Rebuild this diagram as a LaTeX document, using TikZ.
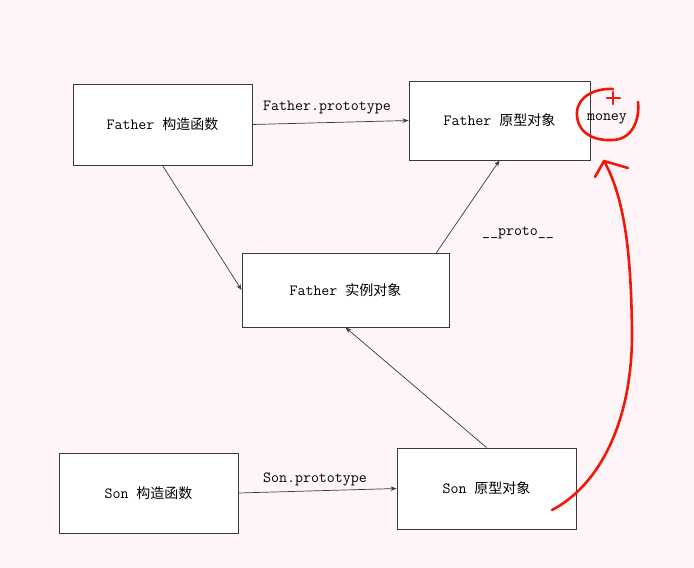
\documentclass[tikz,border=0pt]{standalone}
\usepackage{fontspec}
\newfontfamily\cjk{Noto Sans CJK SC}
\usetikzlibrary{arrows.meta,calc}
\definecolor{bgpink}{HTML}{FFF5F8}
\definecolor{edgegray}{HTML}{3A3A3A}
\definecolor{penred}{HTML}{F01808}
\newcommand{\zh}[1]{{\cjk\fontsize{14}{16}\selectfont #1}}
\begin{document}
\begin{tikzpicture}[x=1pt,y=-1pt,
  every node/.style={font=\ttfamily\fontsize{15.5}{18}\selectfont},
  objbox/.style={draw=edgegray, line width=0.9pt, fill=white, inner sep=0pt},
  link/.style={draw=edgegray, line width=0.7pt, -{Stealth[length=6pt,width=4.5pt]}},
  pen/.style={draw=penred, line width=2.6pt, line cap=round, line join=round}]
  % page background
  \fill[bgpink] (0,0) rectangle (694,568);
  \useasboundingbox (0,0) rectangle (694,568);

  % objects
  \node[objbox, minimum width=179pt, minimum height=81pt] (fc) at (162.5,124.5) {Father \zh{构造函数}};
  \node[objbox, minimum width=181pt, minimum height=79pt] (fp) at (499.5,120.5) {Father \zh{原型对象}};
  \node[objbox, minimum width=207pt, minimum height=74pt] (fi) at (345.5,290) {Father \zh{实例对象}};
  \node[objbox, minimum width=179pt, minimum height=80pt] (sc) at (148.5,493) {Son \zh{构造函数}};
  \node[objbox, minimum width=179pt, minimum height=81pt] (sp) at (486.5,488.5) {Son \zh{原型对象}};

  % links between objects
  \draw[link] (fc.east) -- (fp.west);
  \draw[link] (fc.south) -- (fi.west);
  \draw[link] ($(fi.north east)+(-13,0)$) -- (fp.south);
  \draw[link] (sp.north) -- (fi.south);
  \draw[link] (sc.east) -- (sp.west);

  % link labels
  \node (lfp) at (327,108) {Father.prototype};
  \node (lproto) at (518,233) {\_\_proto\_\_};
  \node (lsp) at (315,479) {Son.prototype};

  % added property on the Father prototype
  \node (money) at (607,119) {money};

  % hand-drawn marks
  \draw[pen] (638,102) .. controls (640,120) and (632,140) .. (612,140)
             .. controls (590,141) and (576,130) .. (577,112)
             .. controls (578,96) and (596,88) .. (613,89);
  \draw[pen] (607,98) -- (620,98);
  \draw[pen] (613,92) -- (613,104);
  \coordinate (penstart) at (552,510);
  \coordinate (pentip) at (604,161);
  \draw[pen] (penstart) .. controls (600,485) and (633,420) .. (632,330)
             .. controls (631,260) and (626,200) .. (pentip);
  \draw[pen] (595,177) -- (pentip) -- (628,168);
\end{tikzpicture}
\end{document}
